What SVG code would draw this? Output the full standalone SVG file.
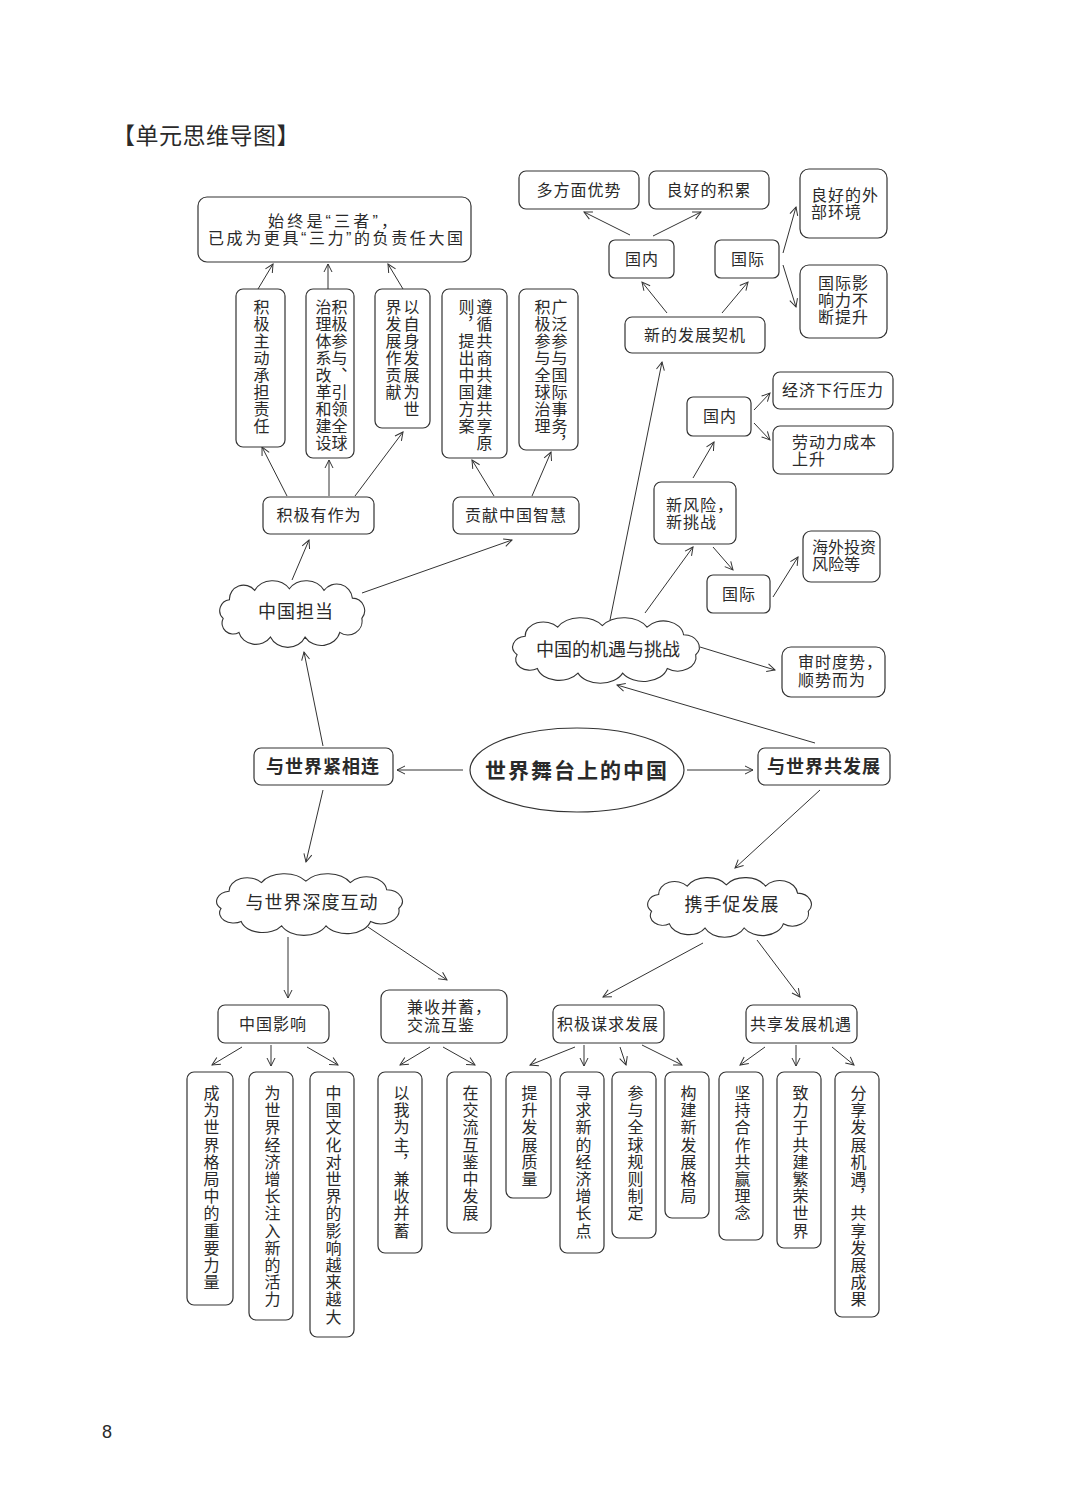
<svg xmlns="http://www.w3.org/2000/svg" xmlns:xlink="http://www.w3.org/1999/xlink" width="1082" height="1507" viewBox="0 0 1082 1507">
<style>
text{font-family:"Liberation Sans","Noto Sans CJK SC",sans-serif;fill:#2a2a2a;}
.t{font-size:16px;letter-spacing:1px;}
.c{text-anchor:middle;}
.b{font-weight:bold;}
.v{font-size:16px;writing-mode:vertical-rl;letter-spacing:1px;}
.vb{font-size:16px;writing-mode:vertical-rl;letter-spacing:1.2px;}
.box{fill:#fff;stroke:#333;stroke-width:1.2;}
.ln{fill:none;stroke:#333;stroke-width:1;marker-end:url(#ah);}
.cl{fill:#fff;stroke:#333;stroke-width:1.1;}
</style>
<defs>
<marker id="ah" markerWidth="10" markerHeight="10" refX="9" refY="5" orient="auto" markerUnits="userSpaceOnUse">
<path d="M1,1 L9,5 L1,9" fill="none" stroke="#333" stroke-width="1"/>
</marker>
<path id="cloud" class="cl" vector-effect="non-scaling-stroke" d="M6,24 A7,7 0 0 1 10,12 A9,9 0 0 1 26,6 A13,12 0 0 1 48,5 A13,12 0 0 1 70,6 A10,10 0 0 1 88,11 A8,8 0 0 1 94,24 A9,9 0 0 1 80,33 A12,11 0 0 1 58,36 A12,11 0 0 1 36,36 A11,10 0 0 1 16,33 A7,7 0 0 1 6,24 Z"/>
</defs>
<rect width="1082" height="1507" fill="#fff"/>
<text x="112" y="144" style="font-size:23px;letter-spacing:0.5px">【单元思维导图】</text>
<text x="102" y="1438" style="font-size:18px;font-family:'Liberation Sans',sans-serif">8</text>

<g id="connectors">
<line class="ln" x1="258" y1="289" x2="273" y2="264"/>
<line class="ln" x1="328" y1="289" x2="328" y2="264"/>
<line class="ln" x1="403" y1="289" x2="388" y2="264"/>
<line class="ln" x1="287" y1="496" x2="262" y2="447"/>
<line class="ln" x1="329" y1="496" x2="329" y2="460"/>
<line class="ln" x1="355" y1="496" x2="403" y2="432"/>
<line class="ln" x1="494" y1="496" x2="472" y2="460"/>
<line class="ln" x1="532" y1="496" x2="551" y2="452"/>
<line class="ln" x1="292" y1="580" x2="309" y2="540"/>
<line class="ln" x1="362" y1="593" x2="512" y2="540"/>
<line class="ln" x1="323" y1="746" x2="304" y2="652"/>
<line class="ln" x1="610" y1="620" x2="662" y2="362"/>
<line class="ln" x1="667" y1="313" x2="642" y2="282"/>
<line class="ln" x1="722" y1="313" x2="748" y2="282"/>
<line class="ln" x1="630" y1="235" x2="584" y2="212"/>
<line class="ln" x1="653" y1="236" x2="701" y2="212"/>
<line class="ln" x1="783" y1="253" x2="796" y2="207"/>
<line class="ln" x1="783" y1="265" x2="796" y2="307"/>
<line class="ln" x1="645" y1="613" x2="693" y2="547"/>
<line class="ln" x1="693" y1="478" x2="714" y2="442"/>
<line class="ln" x1="713" y1="547" x2="733" y2="570"/>
<line class="ln" x1="754" y1="410" x2="770" y2="393"/>
<line class="ln" x1="754" y1="423" x2="770" y2="440"/>
<line class="ln" x1="773" y1="597" x2="798" y2="557"/>
<line class="ln" x1="700" y1="647" x2="775" y2="670"/>
<line class="ln" x1="815" y1="743" x2="617" y2="685"/>
<line class="ln" x1="687" y1="770" x2="753" y2="770"/>
<line class="ln" x1="463" y1="770" x2="397" y2="770"/>
<line class="ln" x1="323" y1="790" x2="306" y2="862"/>
<line class="ln" x1="820" y1="790" x2="735" y2="868"/>
<line class="ln" x1="288" y1="937" x2="288" y2="998"/>
<line class="ln" x1="368" y1="927" x2="447" y2="980"/>
<line class="ln" x1="703" y1="943" x2="603" y2="997"/>
<line class="ln" x1="757" y1="940" x2="800" y2="997"/>
<line class="ln" x1="242" y1="1047" x2="212" y2="1065"/>
<line class="ln" x1="271" y1="1045" x2="271" y2="1066"/>
<line class="ln" x1="307" y1="1047" x2="338" y2="1065"/>
<line class="ln" x1="430" y1="1047" x2="400" y2="1065"/>
<line class="ln" x1="443" y1="1047" x2="475" y2="1065"/>
<line class="ln" x1="575" y1="1047" x2="530" y2="1065"/>
<line class="ln" x1="584" y1="1045" x2="584" y2="1066"/>
<line class="ln" x1="620" y1="1047" x2="626" y2="1065"/>
<line class="ln" x1="642" y1="1045" x2="682" y2="1065"/>
<line class="ln" x1="765" y1="1047" x2="740" y2="1065"/>
<line class="ln" x1="796" y1="1045" x2="796" y2="1066"/>
<line class="ln" x1="832" y1="1047" x2="854" y2="1065"/>
</g>

<g id="n-top">
<rect class="box" x="198" y="197" width="273" height="65" rx="9"/>
<text class="t" x="268" y="227" textLength="130" lengthAdjust="spacing">始终是“三者”，</text>
<text class="t" x="208" y="244" textLength="256" lengthAdjust="spacing">已成为更具“三力”的负责任大国</text>
</g>
<g id="n-v1"><rect class="box" x="236" y="289" width="49" height="158" rx="7"/><text class="v" x="260" y="299">积极主动承担责任</text></g>
<g id="n-v2"><rect class="box" x="306" y="289" width="48" height="169" rx="7"/><text class="v" x="338" y="299">积极参与、引领全球</text><text class="v" x="322" y="299">治理体系改革和建设</text></g>
<g id="n-v3"><rect class="box" x="375" y="289" width="55" height="139" rx="7"/><text class="v" x="410" y="299">以自身发展为世</text><text class="v" x="392" y="299">界发展作贡献</text></g>
<g id="n-v4"><rect class="box" x="442" y="289" width="65" height="169" rx="7"/><text class="v" x="483" y="299">遵循共商共建共享原</text><text class="v" x="465" y="299">则，提出中国方案</text></g>
<g id="n-v5"><rect class="box" x="519" y="289" width="59" height="161" rx="7"/><text class="v" x="558" y="299">广泛参与国际事务，</text><text class="v" x="541" y="299">积极参与全球治理</text></g>

<g id="n-jjyzw"><rect class="box" x="263" y="497" width="111" height="37" rx="7"/><text class="t c" x="319" y="521">积极有作为</text></g>
<g id="n-gxzh"><rect class="box" x="453" y="497" width="126" height="37" rx="7"/><text class="t c" x="516" y="521">贡献中国智慧</text></g>
<g id="n-zgdd"><use xlink:href="#cloud" href="#cloud" transform="translate(213.7,581) scale(1.576,1.558)"/><text class="c" x="296" y="618" style="font-size:18px;letter-spacing:1px">中国担当</text></g>

<g id="n-dfm"><rect class="box" x="519" y="171" width="120" height="38" rx="7"/><text class="t c" x="579" y="196">多方面优势</text></g>
<g id="n-lhjl"><rect class="box" x="649" y="171" width="120" height="38" rx="7"/><text class="t c" x="709" y="196">良好的积累</text></g>
<g id="n-lhwb"><rect class="box" x="800" y="169" width="87" height="69" rx="9"/><text class="t" x="811" y="201">良好的外</text><text class="t" x="811" y="218">部环境</text></g>
<g id="n-gjyx"><rect class="box" x="800" y="265" width="87" height="73" rx="9"/><text class="t" x="818" y="289">国际影</text><text class="t" x="818" y="306">响力不</text><text class="t" x="818" y="323">断提升</text></g>
<g id="n-gn1"><rect class="box" x="609" y="240" width="65" height="38" rx="6"/><text class="t c" x="642" y="265">国内</text></g>
<g id="n-gj1"><rect class="box" x="715" y="240" width="64" height="38" rx="6"/><text class="t c" x="748" y="265">国际</text></g>
<g id="n-xdfz"><rect class="box" x="625" y="317" width="140" height="36" rx="7"/><text class="t c" x="695" y="341">新的发展契机</text></g>
<g id="n-gn2"><rect class="box" x="687" y="397" width="64" height="39" rx="6"/><text class="t c" x="720" y="422">国内</text></g>
<g id="n-jjxx"><rect class="box" x="773" y="372" width="120" height="37" rx="7"/><text class="t c" x="833" y="396">经济下行压力</text></g>
<g id="n-ldl"><rect class="box" x="773" y="426" width="120" height="48" rx="7"/><text class="t" x="792" y="448">劳动力成本</text><text class="t" x="792" y="465">上升</text></g>
<g id="n-xfx"><rect class="box" x="654" y="482" width="82" height="62" rx="7"/><text class="t" x="666" y="511">新风险，</text><text class="t" x="666" y="528">新挑战</text></g>
<g id="n-gj2"><rect class="box" x="707" y="575" width="63" height="38" rx="6"/><text class="t c" x="739" y="600">国际</text></g>
<g id="n-hwtz"><rect class="box" x="803" y="531" width="77" height="51" rx="8"/><text class="t" x="812" y="553" style="letter-spacing:0">海外投资</text><text class="t" x="812" y="570" style="letter-spacing:0">风险等</text></g>
<g id="n-jytz"><use xlink:href="#cloud" href="#cloud" transform="translate(504.9,617.9) scale(2.03,1.535)"/><text class="c" x="608" y="656" style="font-size:18px">中国的机遇与挑战</text></g>
<g id="n-ssds"><rect class="box" x="782" y="647" width="103" height="50" rx="9"/><text class="t" x="798" y="668">审时度势，</text><text class="t" x="798" y="686">顺势而为</text></g>

<g id="n-center"><ellipse cx="577" cy="770" rx="107" ry="42" fill="#fff" stroke="#333" stroke-width="1.2"/><text class="c b" x="577" y="778" style="font-size:21px;letter-spacing:2px">世界舞台上的中国</text></g>
<g id="n-jxl"><rect class="box" x="254" y="748" width="139" height="37" rx="7"/><text class="c b" x="323" y="773" style="font-size:18px;letter-spacing:1px">与世界紧相连</text></g>
<g id="n-gfz"><rect class="box" x="758" y="748" width="132" height="37" rx="7"/><text class="c b" x="824" y="773" style="font-size:18px;letter-spacing:1px">与世界共发展</text></g>

<g id="n-sdhd"><use xlink:href="#cloud" href="#cloud" transform="translate(208.9,873.9) scale(2.02,1.442)"/><text class="c" x="312" y="909" style="font-size:18px;letter-spacing:1px">与世界深度互动</text></g>
<g id="n-xscfz"><use xlink:href="#cloud" href="#cloud" transform="translate(640.9,877.8) scale(1.78,1.395)"/><text class="c" x="732" y="911" style="font-size:18px;letter-spacing:1px">携手促发展</text></g>
<g id="n-zgyx"><rect class="box" x="218" y="1005" width="111" height="38" rx="7"/><text class="t c" x="273" y="1030">中国影响</text></g>
<g id="n-jsbx"><rect class="box" x="381" y="990" width="126" height="53" rx="8"/><text class="t" x="407" y="1013">兼收并蓄，</text><text class="t" x="407" y="1031">交流互鉴</text></g>
<g id="n-jjmq"><rect class="box" x="553" y="1005" width="111" height="38" rx="7"/><text class="t c" x="608" y="1030">积极谋求发展</text></g>
<g id="n-gxjy"><rect class="box" x="746" y="1005" width="111" height="38" rx="7"/><text class="t c" x="801" y="1030">共享发展机遇</text></g>

<g id="n-b1"><rect class="box" x="187" y="1072" width="46" height="233" rx="7"/><text class="vb" x="210" y="1085">成为世界格局中的重要力量</text></g>
<g id="n-b2"><rect class="box" x="249" y="1072" width="44" height="248" rx="7"/><text class="vb" x="271" y="1085">为世界经济增长注入新的活力</text></g>
<g id="n-b3"><rect class="box" x="310" y="1072" width="44" height="265" rx="7"/><text class="vb" x="332" y="1085">中国文化对世界的影响越来越大</text></g>
<g id="n-b4"><rect class="box" x="378" y="1072" width="44" height="181" rx="7"/><text class="vb" x="400" y="1085">以我为主，兼收并蓄</text></g>
<g id="n-b5"><rect class="box" x="447" y="1072" width="44" height="161" rx="7"/><text class="vb" x="469" y="1085">在交流互鉴中发展</text></g>
<g id="n-b6"><rect class="box" x="506" y="1072" width="45" height="126" rx="7"/><text class="vb" x="528" y="1085">提升发展质量</text></g>
<g id="n-b7"><rect class="box" x="560" y="1072" width="44" height="181" rx="7"/><text class="vb" x="582" y="1085">寻求新的经济增长点</text></g>
<g id="n-b8"><rect class="box" x="612" y="1072" width="44" height="166" rx="7"/><text class="vb" x="634" y="1085">参与全球规则制定</text></g>
<g id="n-b9"><rect class="box" x="665" y="1072" width="44" height="146" rx="7"/><text class="vb" x="687" y="1085">构建新发展格局</text></g>
<g id="n-b10"><rect class="box" x="719" y="1072" width="44" height="168" rx="7"/><text class="vb" x="741" y="1085">坚持合作共赢理念</text></g>
<g id="n-b11"><rect class="box" x="777" y="1072" width="44" height="176" rx="7"/><text class="vb" x="799" y="1085">致力于共建繁荣世界</text></g>
<g id="n-b12"><rect class="box" x="835" y="1072" width="44" height="245" rx="7"/><text class="vb" x="857" y="1085">分享发展机遇，共享发展成果</text></g>
</svg>
